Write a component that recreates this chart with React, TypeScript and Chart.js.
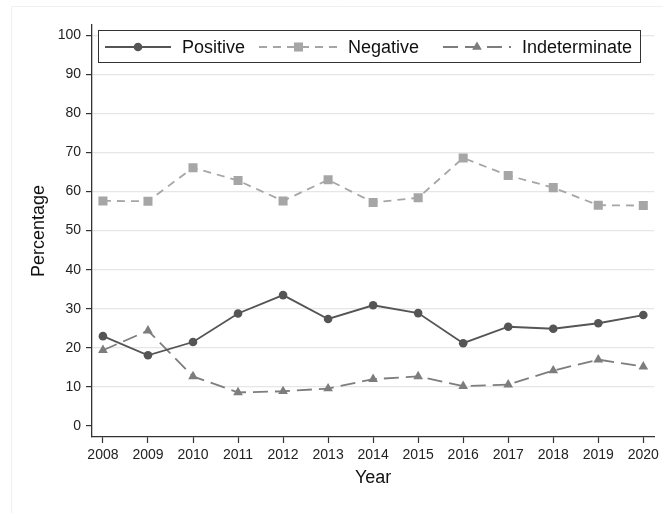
import React, { useEffect, useRef } from "react";
import { Chart, registerables } from "chart.js";

Chart.register(...registerables);

const years = [2008, 2009, 2010, 2011, 2012, 2013, 2014, 2015, 2016, 2017, 2018, 2019, 2020];
const positive = [23.0, 18.1, 21.5, 28.8, 33.5, 27.4, 30.9, 28.9, 21.2, 25.4, 24.9, 26.3, 28.4];
const negative = [57.6, 57.5, 66.1, 62.8, 57.6, 63.0, 57.2, 58.4, 68.6, 64.1, 61.0, 56.5, 56.4];
const indeterminate = [19.4, 24.4, 12.7, 8.6, 8.9, 9.6, 12.0, 12.7, 10.2, 10.6, 14.2, 17.0, 15.2];
const yTicks = [0, 10, 20, 30, 40, 50, 60, 70, 80, 90, 100];
const seriesLabels = ["Positive", "Negative", "Indeterminate"];

const FONT = "'Liberation Sans', Arial, sans-serif";

const framePlugin = {
  id: "frame",
  beforeDraw(chart: any) {
    const ctx = chart.ctx;
    ctx.save();
    ctx.fillStyle = "#ffffff";
    ctx.fillRect(0, 0, chart.width, chart.height);
    ctx.strokeStyle = "#f0f0f0";
    ctx.lineWidth = 1;
    ctx.beginPath();
    ctx.moveTo(11.5, chart.height);
    ctx.lineTo(11.5, 6.5);
    ctx.lineTo(chart.width, 6.5);
    ctx.stroke();
    ctx.restore();
  },
};

function drawMarker(ctx: CanvasRenderingContext2D, style: string, x: number, y: number, r: number) {
  ctx.beginPath();
  if (style === "circle") {
    ctx.arc(x, y, r, 0, Math.PI * 2);
  } else if (style === "rect") {
    const s = Math.SQRT1_2 * r;
    ctx.rect(x - s, y - s, 2 * s, 2 * s);
  } else if (style === "triangle") {
    const a = (2 * Math.PI) / 3;
    ctx.moveTo(x, y - r);
    ctx.lineTo(x + Math.sin(a) * r, y - Math.cos(a) * r);
    ctx.lineTo(x + Math.sin(2 * a) * r, y - Math.cos(2 * a) * r);
  }
  ctx.closePath();
  ctx.fill();
}

const legendPlugin = {
  id: "customLegend",
  afterDraw(chart: any) {
    const ctx = chart.ctx;
    ctx.save();
    const bx = 98.5, by = 30.5, bw = 542, bh = 32;
    ctx.fillStyle = "#ffffff";
    ctx.fillRect(bx, by, bw, bh);
    ctx.strokeStyle = "#333333";
    ctx.lineWidth = 1;
    ctx.strokeRect(bx, by, bw, bh);
    const cy = by + bh / 2 + 0.5;
    const items = [
      { x0: 105, x1: 171, tx: 182 },
      { x0: 259, x1: 338, tx: 348 },
      { x0: 443, x1: 511, tx: 522 },
    ];
    chart.data.datasets.forEach((ds: any, i: number) => {
      const it = items[i];
      ctx.strokeStyle = ds.borderColor;
      ctx.lineWidth = ds.borderWidth;
      ctx.setLineDash(ds.borderDash || []);
      ctx.beginPath();
      ctx.moveTo(it.x0, cy);
      ctx.lineTo(it.x1, cy);
      ctx.stroke();
      ctx.setLineDash([]);
      const mx = (it.x0 + it.x1) / 2;
      ctx.fillStyle = ds.pointBackgroundColor;
      drawMarker(ctx, ds.pointStyle, mx, cy, ds.pointRadius);
      ctx.fillStyle = "#111111";
      ctx.font = `18px ${FONT}`;
      ctx.textBaseline = "middle";
      ctx.textAlign = "left";
      ctx.fillText(ds.label, it.tx, cy + 1);
    });
    ctx.restore();
  },
};

export default function App() {
  const ref = useRef<HTMLCanvasElement>(null);
  useEffect(() => {
    document.body.style.margin = "0";
    const toPts = (vals: number[]) => years.map((yr, i) => ({ x: yr, y: vals[i] }));
    const chart = new Chart(ref.current as HTMLCanvasElement, {
      type: "line",
      data: {
        datasets: [
          {
            label: seriesLabels[0],
            data: toPts(positive),
            borderColor: "#555555",
            backgroundColor: "#555555",
            pointBackgroundColor: "#555555",
            pointBorderColor: "#555555",
            borderWidth: 1.8,
            pointStyle: "circle",
            pointRadius: 4.3,
            pointBorderWidth: 0,
            tension: 0,
          },
          {
            label: seriesLabels[1],
            data: toPts(negative),
            borderColor: "#a6a6a6",
            backgroundColor: "#a6a6a6",
            pointBackgroundColor: "#a6a6a6",
            pointBorderColor: "#a6a6a6",
            borderWidth: 1.8,
            borderDash: [8, 6],
            pointStyle: "rect",
            pointRadius: 6.4,
            pointBorderWidth: 0,
            tension: 0,
          },
          {
            label: seriesLabels[2],
            data: toPts(indeterminate),
            borderColor: "#7d7d7d",
            backgroundColor: "#7d7d7d",
            pointBackgroundColor: "#7d7d7d",
            pointBorderColor: "#7d7d7d",
            borderWidth: 1.8,
            borderDash: [15, 7],
            pointStyle: "triangle",
            pointRadius: 5.6,
            pointBorderWidth: 0,
            tension: 0,
          },
        ],
      } as any,
      options: {
        animation: false,
        responsive: false,
        maintainAspectRatio: false,
        layout: { padding: { top: 25, right: 6, left: 0, bottom: 0 } },
        plugins: { legend: { display: false }, tooltip: { enabled: false } },
        scales: {
          x: {
            type: "linear",
            min: 2007.757,
            max: 2020.243,
            afterBuildTicks: (s: any) => {
              s.ticks = years.map((v) => ({ value: v }));
            },
            afterFit: (s: any) => {
              s.height = 76;
            },
            grid: { drawOnChartArea: false, tickLength: 6, tickColor: "#333333", tickWidth: 1.2 },
            border: { color: "#333333", width: 1.3 },
            ticks: {
              callback: (v: any) => String(v),
              font: { family: FONT, size: 14 },
              color: "#222222",
              padding: 4,
              maxRotation: 0,
              autoSkip: false,
            },
            title: {
              display: true,
              text: "Year",
              font: { family: FONT, size: 18 },
              color: "#111111",
              padding: { top: 0, bottom: 24 },
            },
          },
          y: {
            type: "linear",
            min: -2.8,
            max: 102.6,
            afterBuildTicks: (s: any) => {
              s.ticks = yTicks.map((v) => ({ value: v }));
            },
            afterFit: (s: any) => {
              s.width = 92;
            },
            grid: {
              color: (c: any) => (c.tick && c.tick.value === 0 ? "rgba(0,0,0,0)" : "#e6e6e6"),
              lineWidth: 1.2,
              tickLength: 6,
              tickColor: "#333333",
              tickWidth: 1.2,
            },
            border: { color: "#333333", width: 1.3 },
            ticks: {
              callback: (v: any) => String(v),
              font: { family: FONT, size: 14 },
              color: "#222222",
              padding: 5,
            },
            title: {
              display: true,
              text: "Percentage",
              font: { family: FONT, size: 18 },
              color: "#111111",
              padding: { top: 28, bottom: 0 },
            },
          },
        },
      } as any,
      plugins: [framePlugin, legendPlugin],
    });
    return () => chart.destroy();
  }, []);
  return <canvas ref={ref} width={663} height={513} style={{ display: "block" }} />;
}
